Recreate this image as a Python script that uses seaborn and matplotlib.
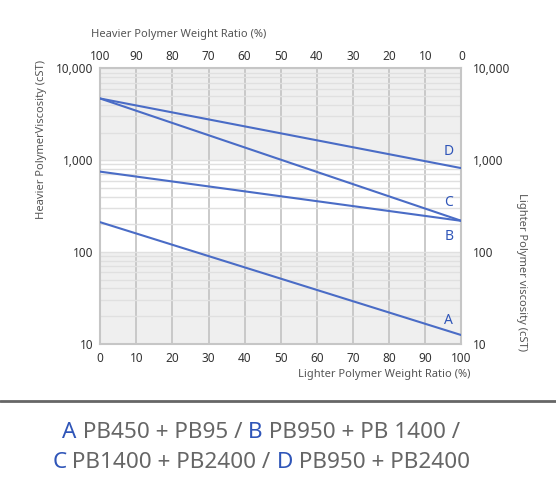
import numpy as np
import pandas as pd
import seaborn as sns
import matplotlib.pyplot as plt
from matplotlib.ticker import FixedLocator, FuncFormatter, LogLocator, NullFormatter

# lighter polymer weight ratio (%) and blend viscosity at the two ends
ratio = [0, 100]
visc_a = [211, 12.4]
visc_b = [750, 218]
visc_c = [4700, 218]
visc_d = [4700, 818]
series = ['A', 'B', 'C', 'D']
label_y = [18.1, 149, 342, 1230]
caption = [('A', ' PB450 + PB95 / '), ('B', ' PB950 + PB 1400 /'),
           ('C', ' PB1400 + PB2400 / '), ('D', ' PB950 + PB2400')]

df = pd.DataFrame({
    'ratio': ratio * 4,
    'visc': visc_a + visc_b + visc_c + visc_d,
    'blend': [s for s in series for _ in ratio],
})

sns.set_theme(style='white')
plt.rcParams['font.family'] = ['Noto Sans', 'DejaVu Sans']

blue = '#4a6cc6'
letter_blue = '#2f55b8'
grey_txt = '#333333'

fig = plt.figure(figsize=(5.56, 4.92), dpi=100)
ax = fig.add_axes([0.18, 0.3014, 0.65, 0.5596])

# shaded decades
ax.axhspan(10, 100, color='#efefef', zorder=0, lw=0)
ax.axhspan(1000, 10000, color='#efefef', zorder=0, lw=0)

sns.lineplot(data=df, x='ratio', y='visc', units='blend', estimator=None,
             color=blue, lw=1.5, ax=ax, zorder=3)

ax.set_yscale('log')
ax.set_xlim(0, 100)
ax.set_ylim(10, 10000)
ax.set_xlabel('')
ax.set_ylabel('')

ax.xaxis.set_major_locator(FixedLocator(range(0, 101, 10)))
ax.yaxis.set_major_locator(FixedLocator([10, 100, 1000, 10000]))
ax.yaxis.set_minor_locator(LogLocator(base=10, subs=np.arange(2, 10)))
ax.yaxis.set_minor_formatter(NullFormatter())
ax.yaxis.set_major_formatter(FuncFormatter(lambda v, p: f'{int(v):,}'))
ax.grid(True, axis='x', color='#c6c6c6', lw=1.3, zorder=1)
ax.grid(True, axis='y', which='minor', color='#e0e0e0', lw=1.0, zorder=1)
ax.grid(True, axis='y', which='major', color='#e0e0e0', lw=1.0, zorder=1)
ax.set_axisbelow(True)
ax.tick_params(axis='both', which='both', length=0, labelsize=8.5,
               colors=grey_txt, pad=5)
ax.tick_params(axis='x', pad=6)
for sp in ax.spines.values():
    sp.set_color('#c6c6c6')
    sp.set_linewidth(1.5)

# top axis: heavier polymer ratio
top = ax.secondary_xaxis('top', functions=(lambda x: 100 - x, lambda x: 100 - x))
top.xaxis.set_major_locator(FixedLocator(range(0, 101, 10)))
top.tick_params(length=0, labelsize=8.5, colors=grey_txt, pad=4)
top.spines['top'].set_visible(False)

# right axis: lighter polymer viscosity
right = ax.secondary_yaxis('right')
right.yaxis.set_major_locator(FixedLocator([10, 100, 1000, 10000]))
right.yaxis.set_minor_locator(FixedLocator([]))
right.yaxis.set_major_formatter(FuncFormatter(lambda v, p: f'{int(v):,}'))
right.tick_params(length=0, labelsize=8.5, colors=grey_txt, pad=8)
right.spines['right'].set_visible(False)

for s, y in zip(series, label_y):
    ax.text(96.5, y, s, color=letter_blue, fontsize=10, ha='center', va='center')

fig.text(91 / 556, 1 - 35 / 492, 'Heavier Polymer Weight Ratio (%)', fontsize=8,
         color='#555555', ha='left', va='center')
fig.text(471 / 556, 1 - 374 / 492, 'Lighter Polymer Weight Ratio (%)', fontsize=8,
         color='#555555', ha='right', va='center')
fig.text(42 / 556, 1 - 139 / 492, 'Heavier PolymerViscosity (cST)', fontsize=8,
         color='#555555', ha='center', va='center', rotation=90)
fig.text(521 / 556, 1 - 272 / 492, 'Lighter Polymer viscosity (cST)', fontsize=8,
         color='#555555', ha='center', va='center', rotation=270)

# separator and caption
fig.add_artist(plt.Line2D([0, 1], [1 - 401 / 492] * 2, color='#666666', lw=2))

def caption_line(parts, y, cx=261, size=16.2):
    # measure total width to centre the mixed-colour line
    r = fig.canvas.get_renderer()
    pieces = []
    for letter, rest in parts:
        pieces.append((letter, letter_blue))
        pieces.append((rest, '#666666'))
    widths = []
    for txt, c in pieces:
        t = fig.text(0, 0, txt, fontsize=size)
        widths.append(t.get_window_extent(r).width)
        t.remove()
    x = cx - sum(widths) / 2
    for (txt, c), w in zip(pieces, widths):
        fig.text(x / fig.bbox.width, y, txt, fontsize=size, color=c, va='center')
        x += w

caption_line(caption[:2], 1 - 432 / 492)
caption_line(caption[2:], 1 - 463 / 492)

fig.savefig('out.png', dpi=100)
